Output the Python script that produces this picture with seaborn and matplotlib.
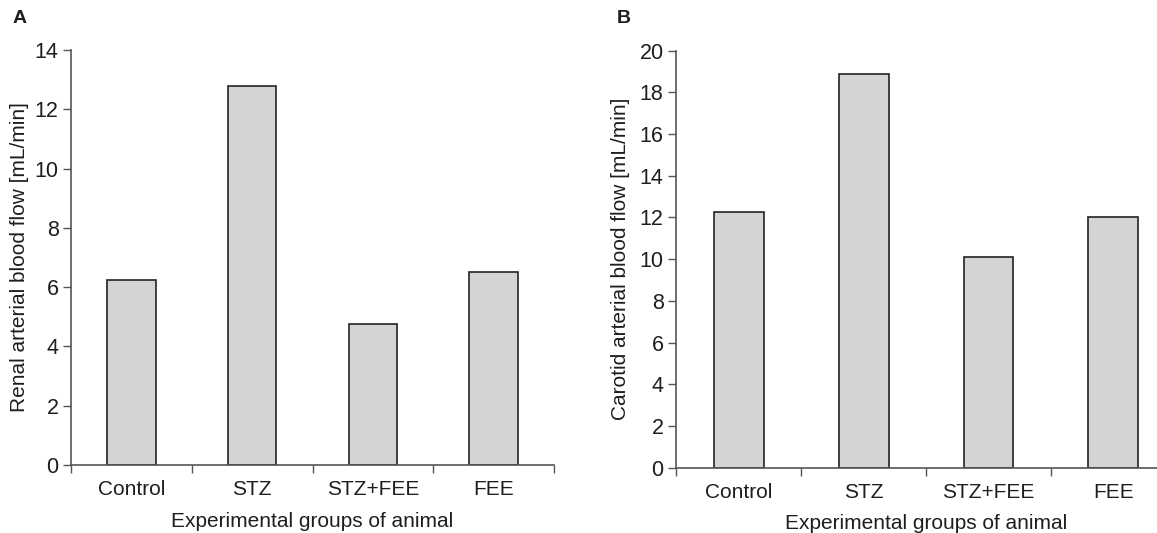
import numpy as np
import pandas as pd
import matplotlib
matplotlib.use("Agg")
import matplotlib.pyplot as plt
import seaborn as sns

groups = ["Control", "STZ", "STZ+FEE", "FEE"]
renal_flow = [6.24, 12.8, 4.77, 6.5]
carotid_flow = [12.27, 18.88, 10.1, 12.03]

renal_ticks = [0, 2, 4, 6, 8, 10, 12, 14]
carotid_ticks = [0, 2, 4, 6, 8, 10, 12, 14, 16, 18, 20]

BAR = "#d3d4d6"
EDGE = "#232323"
AXIS = "#555555"
TEXT = "#1e1e1e"

sns.set_theme(style="white")
plt.rcParams["font.family"] = ["Liberation Sans", "DejaVu Sans"]
plt.rcParams["text.color"] = TEXT
plt.rcParams["xtick.color"] = TEXT
plt.rcParams["ytick.color"] = TEXT
plt.rcParams["axes.labelcolor"] = TEXT

fig = plt.figure(figsize=(11.57, 5.33), dpi=100)
ax_a = fig.add_axes([0.0614, 0.1276, 0.4174, 0.7786])
ax_b = fig.add_axes([0.5843, 0.1226, 0.4321, 0.7823])


def draw_panel(ax, values, yticks, ylabel, ypad):
    df = pd.DataFrame({"group": groups, "flow": values})
    sns.barplot(data=df, x="group", y="flow", order=groups, width=0.4,
                color=BAR, edgecolor=EDGE, linewidth=1.2, saturation=1, ax=ax)
    ax.set_xlim(-0.5, 3.5)
    ax.set_ylim(0, yticks[-1])
    ax.set_yticks(yticks)
    ax.set_yticklabels([str(t) for t in yticks], fontsize=15.5)
    # tick marks between groups, labels under each bar
    ax.set_xticks(np.arange(-0.5, 4, 1))
    ax.set_xticklabels([])
    ax.set_xticks(range(len(groups)), minor=True)
    ax.set_xticklabels(groups, minor=True, fontsize=15)
    ax.tick_params(axis="x", which="minor", bottom=True, length=0, pad=11)
    ax.tick_params(axis="x", which="major", bottom=True, length=6, width=1,
                   color=AXIS, direction="out")
    ax.tick_params(axis="y", left=True, length=6, width=1, color=AXIS,
                   direction="out", pad=3)
    for side in ["top", "right"]:
        ax.spines[side].set_visible(False)
    for side in ["left", "bottom"]:
        ax.spines[side].set_color(AXIS)
        ax.spines[side].set_linewidth(1.2)
    ax.set_xlabel("Experimental groups of animal", fontsize=15, labelpad=9)
    ax.set_ylabel(ylabel, fontsize=15, labelpad=ypad)


draw_panel(ax_a, renal_flow, renal_ticks, "Renal arterial blood flow [mL/min]", 4)
draw_panel(ax_b, carotid_flow, carotid_ticks, "Carotid arterial blood flow [mL/min]", 7)

fig.text(0.0104, 0.965, "A", fontsize=14, fontweight="bold", va="center", ha="left")
fig.text(0.533, 0.965, "B", fontsize=14, fontweight="bold", va="center", ha="left")

fig.savefig("out.png", dpi=100)
